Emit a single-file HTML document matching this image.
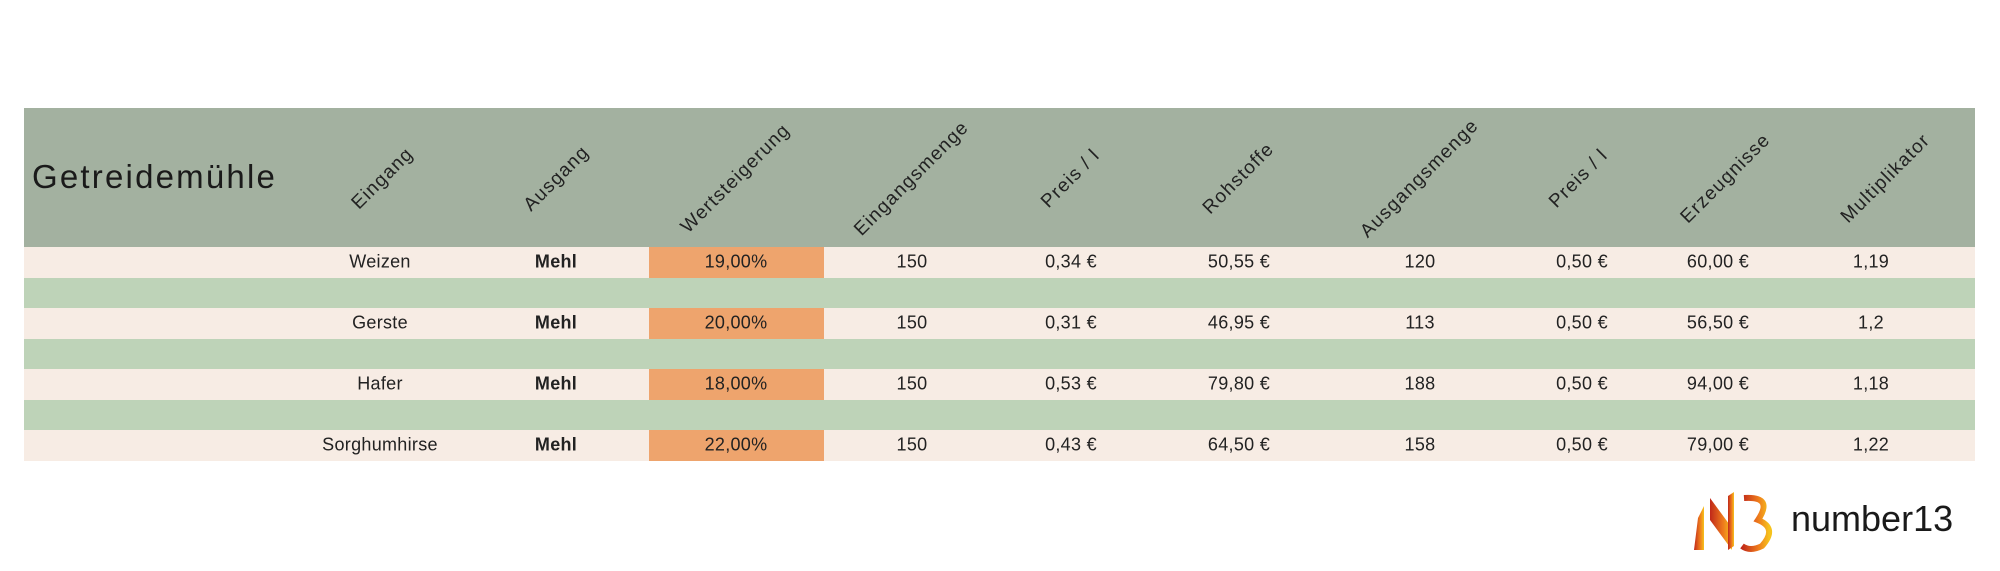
<!DOCTYPE html>
<html><head><meta charset="utf-8">
<style>
body{margin:0;width:2000px;height:571px;background:#fff;overflow:hidden;position:relative;font-family:"Liberation Sans",sans-serif;}
.abs{position:absolute;}
.hdr{left:24px;top:108px;width:1951px;height:139px;background:#a3b1a0;}
.row{left:24px;width:1951px;height:30.5px;}
.cell{position:absolute;transform:translate(-50%,-50%);font-size:18px;color:#222;white-space:nowrap;letter-spacing:0.3px;}
.hl{position:absolute;transform:translate(-50%,-50%) rotate(-45deg);font-size:19px;color:#222;white-space:nowrap;letter-spacing:1.2px;}
</style></head>
<body>
<div class="abs hdr"></div>
<div class="abs" style="left:32px;top:158px;font-size:33px;letter-spacing:2.2px;color:#1a1a1a;">Getreidemühle</div>
<div id="tbl"></div>
<div class="abs" style="left:1688px;top:488px;width:300px;height:66px;">
<svg width="95" height="66" style="position:absolute;left:0;top:0">
<defs><linearGradient id="g" x1="0" x2="1"><stop offset="0" stop-color="#c0281a"/><stop offset="0.6" stop-color="#ee7a1c"/><stop offset="1" stop-color="#f6c21c"/></linearGradient></defs>
<path d="M6 62 L10 30 L16 18 L16 62 Z" fill="url(#g)"/>
<path d="M22 10 L44 40 L44 62 L22 32 Z" fill="url(#g)"/>
<path d="M40 8 L46 4 L46 58 L40 62 Z" fill="url(#g)"/>
<path d="M56 10 Q86 8 70 32 Q90 40 74 58 Q62 64 54 58" fill="none" stroke="url(#g)" stroke-width="6"/>
</svg>
<div style="position:absolute;left:103px;top:10px;font-size:36px;color:#1a1a1a;">number13</div>
</div>
<script>
const headers=["Eingang","Ausgang","Wertsteigerung","Eingangsmenge","Preis / l","Rohstoffe","Ausgangsmenge","Preis / l","Erzeugnisse","Multiplikator"];
const colX=[380,556,736,912,1071,1239,1420,1582,1718,1871];
const hdrX=[383,557,736,912,1071,1239,1420,1579,1726,1886];
const eingang=["Weizen","Gerste","Hafer","Sorghumhirse"];
const wert=["19,00%","20,00%","18,00%","22,00%"];
const menge=["150","150","150","150"];
const preisIn=["0,34 €","0,31 €","0,53 €","0,43 €"];
const rohstoffe=["50,55 €","46,95 €","79,80 €","64,50 €"];
const ausMenge=["120","113","188","158"];
const preisOut=["0,50 €","0,50 €","0,50 €","0,50 €"];
const erzeug=["60,00 €","56,50 €","94,00 €","79,00 €"];
const mult=["1,19","1,2","1,18","1,22"];
const t=document.getElementById('tbl');
headers.forEach((h,i)=>{const d=document.createElement('div');d.className='hl';


d.style.left=hdrX[i]+'px';d.style.top='179px';d.textContent=h;t.appendChild(d);});
const top0=247,rh=30.5;
for(let r=0;r<7;r++){const d=document.createElement('div');d.className='abs row';


d.style.top=(top0+r*rh)+'px';d.style.background=r%2?'#bed3b8':'#f7ece4';t.appendChild(d);}
eingang.forEach((e,k)=>{const y=top0+k*2*rh;
const o=document.createElement('div');o.className='abs';


o.style.cssText=`left:649px;top:${y}px;width:175px;height:${rh}px;background:#eea46d;`;t.appendChild(o);
const vals=[e,"Mehl",wert[k],menge[k],preisIn[k],rohstoffe[k],ausMenge[k],preisOut[k],erzeug[k],mult[k]];
vals.forEach((v,i)=>{const c=document.createElement('div');c.className='cell';


c.style.left=colX[i]+'px';c.style.top=(y+rh/2)+'px';if(i==1)c.style.fontWeight='bold';c.textContent=v;t.appendChild(c);});
});
</script>
</body></html>
